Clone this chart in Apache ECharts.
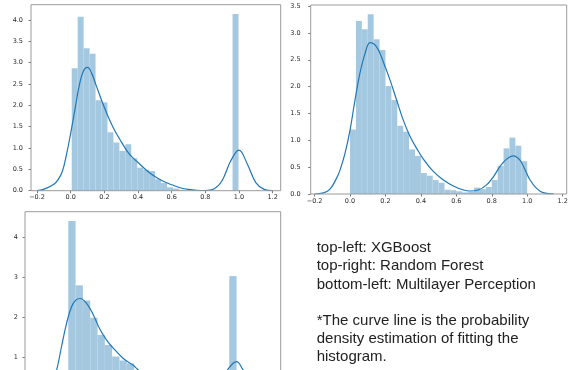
<!DOCTYPE html>
<html>
<head>
<meta charset="utf-8">
<script src="https://cdn.jsdelivr.net/npm/echarts@6/dist/echarts.min.js"></script>
<style>
  html, body { margin: 0; padding: 0; background: #fff; }
  #chart { width: 571px; height: 370px; }
</style>
</head>
<body>
<div id="chart"></div>
<script>
// histogram bins: start, width, heights (density)
const xgbBinStart = 0.006;
const xgbBinWidth = 0.0354;
const xgbHeights = [2.87, 4.08, 3.34, 3.21, 2.12, 2.07, 1.37, 1.13, 0.93, 1.09, 0.76, 0.54, 0.49, 0.46,
    0.27, 0.18, 0.08, 0.05, 0.02, 0, 0, 0, 0, 0, 0, 0, 0, 4.14];

const rfBinStart = 0.0;
const rfBinWidth = 1 / 30;
const rfHeights = [1.2, 3.22, 3.07, 3.35, 2.88, 2.68, 2.01, 1.75, 1.27, 1.16, 0.83, 0.71, 0.39, 0.34,
    0.26, 0.21, 0.08, 0.07, 0.05, 0.03, 0.04, 0.12, 0.09, 0.13, 0.26, 0.52, 0.85, 1.05, 0.9, 0.61];

const mlpBinStart = 0.0;
const mlpBinWidth = 1 / 23;
const mlpHeights = [4.41, 2.8, 2.42, 1.99, 1.56, 1.31, 1.02, 0.92, 0.85, 0.6, 0.45, 0.35, 0.25, 0.18,
    0.1, 0.05, 0.03, 0.02, 0.01, 0.02, 0.05, 0.2, 3.03];

// kde curves
const xgbKde = [[-0.2, 0.0], [-0.15, 0.05], [-0.1, 0.15], [-0.075, 0.26], [-0.05, 0.45], [-0.025, 0.85],
    [0.0, 1.35], [0.025, 1.9], [0.05, 2.45], [0.075, 2.8], [0.1, 2.89], [0.125, 2.75], [0.15, 2.48],
    [0.2, 1.95], [0.25, 1.5], [0.3, 1.15], [0.35, 0.85], [0.4, 0.66], [0.45, 0.48], [0.5, 0.33],
    [0.55, 0.22], [0.6, 0.14], [0.65, 0.07], [0.7, 0.03], [0.75, 0.01], [0.8, 0.005], [0.85, 0.04],
    [0.9, 0.24], [0.95, 0.69], [1.0, 0.95], [1.05, 0.62], [1.1, 0.19], [1.15, 0.03], [1.2, 0.0]];

const rfKde = [[-0.2, 0.0], [-0.15, 0.02], [-0.113, 0.09], [-0.075, 0.3], [-0.056, 0.45], [-0.028, 0.76],
    [0.0, 1.19], [0.028, 1.75], [0.056, 2.25], [0.085, 2.62], [0.113, 2.82], [0.15, 2.74], [0.188, 2.46],
    [0.226, 2.12], [0.263, 1.75], [0.3, 1.38], [0.339, 1.07], [0.376, 0.85], [0.414, 0.65], [0.47, 0.42],
    [0.527, 0.26], [0.583, 0.15], [0.64, 0.075], [0.677, 0.056], [0.724, 0.075], [0.771, 0.17],
    [0.809, 0.32], [0.846, 0.51], [0.884, 0.65], [0.922, 0.71], [0.959, 0.63], [0.988, 0.45],
    [1.016, 0.26], [1.053, 0.105], [1.09, 0.025], [1.15, 0.0]];

const mlpKde = [[-0.2, 0.0], [-0.15, 0.05], [-0.1, 0.3], [-0.069, 0.68], [-0.04, 1.27], [-0.01, 1.85],
    [0.02, 2.27], [0.045, 2.43], [0.07, 2.47], [0.109, 2.35], [0.149, 2.06], [0.188, 1.7], [0.228, 1.43],
    [0.267, 1.23], [0.327, 0.97], [0.386, 0.8], [0.416, 0.68], [0.45, 0.6], [0.5, 0.42], [0.55, 0.28],
    [0.6, 0.17], [0.65, 0.09], [0.7, 0.04], [0.75, 0.02], [0.8, 0.03], [0.85, 0.14], [0.9, 0.37],
    [0.945, 0.68], [1.0, 0.89], [1.04, 0.68], [1.1, 0.37], [1.15, 0.14], [1.2, 0.02], [1.25, 0.0]];

const xTicks = [-0.2, 0.0, 0.2, 0.4, 0.6, 0.8, 1.0, 1.2];
const xgbYTicks = [0, 0.5, 1, 1.5, 2, 2.5, 3, 3.5, 4];
const rfYTicks = [0, 0.5, 1, 1.5, 2, 2.5, 3, 3.5];
const mlpYTicks = [0, 1, 2, 3, 4];

const noteLines = [
    'top-left: XGBoost',
    'top-right: Random Forest',
    'bottom-left: Multilayer Perception',
    '',
    '*The curve line is the probability',
    'density estimation of fitting the',
    'histogram.'
];

const barColor = '#a5c8e1';
const lineColor = '#1f77b4';
const tickFont = 'DejaVu Sans';

const toBins = (start, width, heights) =>
    heights.map((h, i) => [start + i * width, start + (i + 1) * width, h]);

const renderBar = (params, api) => {
    const p0 = api.coord([api.value(0), api.value(2)]);
    const p1 = api.coord([api.value(1), 0]);
    return {
        type: 'rect',
        shape: { x: p0[0], y: p0[1], width: p1[0] - p0[0], height: p1[1] - p0[1] },
        style: { fill: barColor }
    };
};

const fmtX = v => v.toFixed(1).replace('-', '\u2212');

const makeX = (idx, min, max) => ({
    type: 'value',
    gridIndex: idx,
    min: min,
    max: max,
    splitLine: { show: false },
    axisLine: { show: false, onZero: false },
    axisTick: { show: true, length: 2.5, customValues: xTicks, lineStyle: { color: '#555', width: 0.8 } },
    axisLabel: { customValues: xTicks, formatter: fmtX, fontFamily: tickFont, fontSize: 6.5, color: '#2a2a2a', margin: 3.5 }
});

const makeY = (idx, max, ticks, digits, margin) => ({
    type: 'value',
    gridIndex: idx,
    min: 0,
    max: max,
    splitLine: { show: false },
    axisLine: { show: false, onZero: false },
    axisTick: { show: true, length: 2.5, customValues: ticks, lineStyle: { color: '#555', width: 0.8 } },
    axisLabel: { customValues: ticks, formatter: v => v.toFixed(digits), fontFamily: tickFont, fontSize: 6.5, color: '#2a2a2a', margin: margin }
});

const frame = {
    show: true, borderColor: '#9a9a9a', borderWidth: 1, backgroundColor: 'transparent', z: 10,
    containLabel: false, outerBoundsMode: 'none'
};

const chart = echarts.init(document.getElementById('chart'), null, { renderer: 'canvas' });

chart.setOption({
    animation: false,
    backgroundColor: '#fff',
    grid: [
        Object.assign({ left: 31, top: 4.7, width: 249.7, height: 186 }, frame),
        Object.assign({ left: 310.7, top: 5, width: 256, height: 189 }, frame),
        Object.assign({ left: 25, top: 211.7, width: 255.7, height: 185.6 }, frame)
    ],
    xAxis: [
        makeX(0, -0.236, 1.248),
        makeX(1, -0.222, 1.223),
        makeX(2, -0.257, 1.262)
    ],
    yAxis: [
        makeY(0, 4.36, xgbYTicks, 1, 8),
        makeY(1, 3.52, rfYTicks, 1, 10),
        makeY(2, 4.64, mlpYTicks, 0, 7)
    ],
    series: [
        { type: 'custom', xAxisIndex: 0, yAxisIndex: 0, renderItem: renderBar, data: toBins(xgbBinStart, xgbBinWidth, xgbHeights), z: 2 },
        { type: 'custom', xAxisIndex: 1, yAxisIndex: 1, renderItem: renderBar, data: toBins(rfBinStart, rfBinWidth, rfHeights), z: 2 },
        { type: 'custom', xAxisIndex: 2, yAxisIndex: 2, renderItem: renderBar, data: toBins(mlpBinStart, mlpBinWidth, mlpHeights), z: 2 },
        { type: 'line', xAxisIndex: 0, yAxisIndex: 0, data: xgbKde, smooth: 0.4, showSymbol: false, lineStyle: { color: lineColor, width: 1.2 }, z: 3 },
        { type: 'line', xAxisIndex: 1, yAxisIndex: 1, data: rfKde, smooth: 0.4, showSymbol: false, lineStyle: { color: lineColor, width: 1.2 }, z: 3 },
        { type: 'line', xAxisIndex: 2, yAxisIndex: 2, data: mlpKde, smooth: 0.4, showSymbol: false, lineStyle: { color: lineColor, width: 1.2 }, z: 3 }
    ],
    graphic: [
        {
            type: 'text',
            left: 316.7,
            top: 239,
            style: {
                text: noteLines.join('\n'),
                font: '15px "Liberation Sans"',
                lineHeight: 18.2,
                fill: '#222'
            }
        }
    ]
});
</script>
</body>
</html>
